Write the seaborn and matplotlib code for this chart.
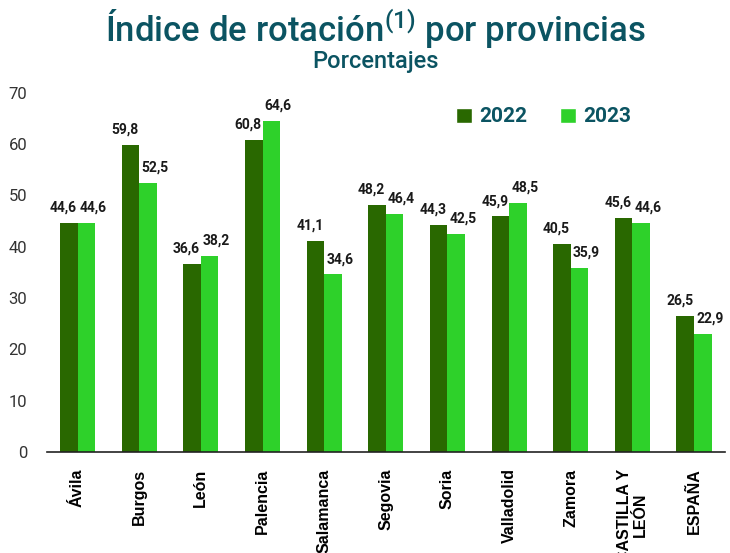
import matplotlib
matplotlib.use("Agg")
import matplotlib.pyplot as plt
import seaborn as sns
import pandas as pd
from matplotlib.patches import Patch

provincias = ["Ávila", "Burgos", "León", "Palencia", "Salamanca", "Segovia",
              "Soria", "Valladolid", "Zamora", "CASTILLA Y\nLEÓN", "ESPAÑA"]
valores_2022 = [44.6, 59.8, 36.6, 60.8, 41.1, 48.2, 44.3, 45.9, 40.5, 45.6, 26.5]
valores_2023 = [44.6, 52.5, 38.2, 64.6, 34.6, 46.4, 42.5, 48.5, 35.9, 44.6, 22.9]
anios = ["2022", "2023"]
yticks = [0, 10, 20, 30, 40, 50, 60, 70]

color_2022 = "#296800"
color_2023 = "#2ed12a"
teal = "#0b5462"

sns.set_theme(style="white")
plt.rcParams["font.family"] = ["Roboto", "DejaVu Sans"]
plt.rcParams["mathtext.fontset"] = "custom"
plt.rcParams["mathtext.rm"] = "Roboto:medium"
plt.rcParams["mathtext.it"] = "Roboto:medium"
plt.rcParams["mathtext.bf"] = "Roboto:bold"

df = pd.DataFrame({
    "provincia": provincias * 2,
    "anio": [anios[0]] * len(provincias) + [anios[1]] * len(provincias),
    "valor": valores_2022 + valores_2023,
})

fig = plt.figure(figsize=(7.3, 5.53), dpi=100)
ax = fig.add_axes([0.064, 0.183, 0.929, 0.649])

sns.barplot(data=df, x="provincia", y="valor", hue="anio",
            palette=[color_2022, color_2023], width=0.57, gap=0,
            saturation=1, ax=ax, legend=False, errorbar=None,
            edgecolor="none")

ax.set_xlim(-0.5, len(provincias) - 0.5)
ax.set_ylim(0, 70)
ax.set_yticks(yticks)
ax.set_yticklabels([str(t) for t in yticks], fontsize=12, color="#333333")
ax.set_xlabel("")
ax.set_ylabel("")
ax.tick_params(axis="y", length=0, pad=14)
ax.tick_params(axis="x", length=0, pad=12)
ax.set_xticks(range(len(provincias)))
ax.set_xticklabels(provincias, rotation=90, fontsize=11.5, fontweight="bold",
                   family="Liberation Sans", color="black",
                   va="top", ha="center", linespacing=1.15)

for s in ["top", "right", "left"]:
    ax.spines[s].set_visible(False)
ax.spines["bottom"].set_color("#222222")
ax.spines["bottom"].set_linewidth(1.2)

# value labels above each bar
for container, dx in zip(ax.containers, [-4, 5]):
    for bar, v in zip(container.patches, container.datavalues):
        ax.annotate(f"{v:.1f}".replace(".", ","),
                    (bar.get_x() + bar.get_width() / 2, bar.get_height()),
                    xytext=(dx, 6), textcoords="offset points",
                    ha="center", va="bottom", fontsize=10,
                    fontweight="bold", color="#1a1a1a")

handles = [Patch(facecolor=color_2022), Patch(facecolor=color_2023)]
leg = ax.legend(handles, anios, loc="center right",
                bbox_to_anchor=(0.862, 0.933), borderaxespad=0, borderpad=0,
                ncol=2, frameon=False, handlelength=0.75, handleheight=0.75,
                handletextpad=0.35, columnspacing=1.6,
                prop={"family": "Roboto", "weight": "bold", "size": 15})
for t in leg.get_texts():
    t.set_color(teal)

fig.text(0.515, 0.949, r"Índice de rotación$^{(1)}$ por provincias",
         ha="center", va="center", fontsize=25, fontweight="medium", color=teal)
fig.text(0.515, 0.889, "Porcentajes", ha="center", va="center",
         fontsize=17, fontweight="medium", color=teal)

fig.savefig("out.png", dpi=100)
